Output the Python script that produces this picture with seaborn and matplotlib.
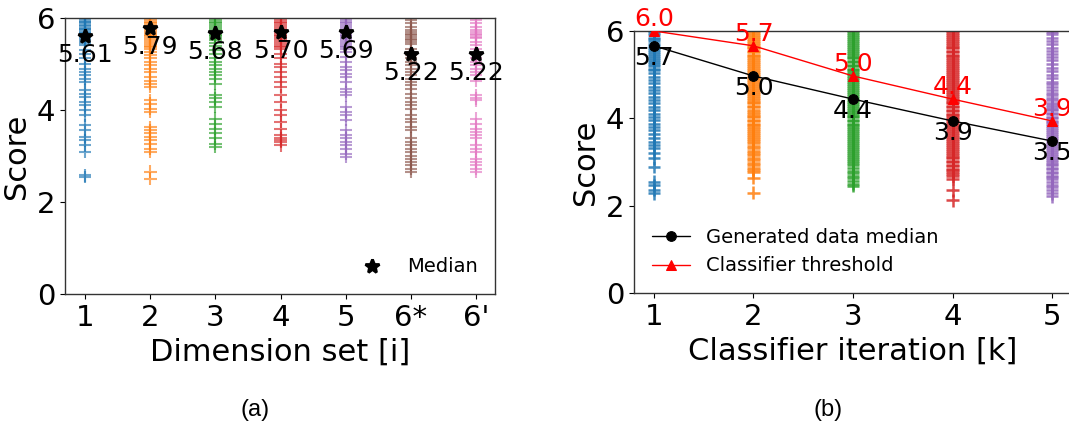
import numpy as np
import pandas as pd
import matplotlib
matplotlib.use("Agg")
import matplotlib.pyplot as plt
import seaborn as sns

sns.set_style("ticks")
plt.rcParams["font.family"] = ["DejaVu Sans"]
plt.rcParams.update({
    "text.color": "black",
    "axes.labelcolor": "black",
    "xtick.color": "black",
    "ytick.color": "black",
    "axes.edgecolor": "#333333",
    "axes.linewidth": 1.0,
})

TAB10 = ["#1f77b4", "#ff7f0e", "#2ca02c", "#d62728", "#9467bd", "#8c564b", "#e377c2"]

# ---------------- (a) scores per dimension set ----------------
dim_labels = ["1", "2", "3", "4", "5", "6*", "6'"]

dim_set_1 = [6.00, 5.97, 5.94, 5.91, 5.88, 5.85, 5.82, 5.79, 5.76, 5.73, 5.70, 5.67, 5.64,
             5.61, 5.58, 5.55, 5.50, 5.45, 5.41, 5.30, 5.22, 5.12, 5.01, 4.90, 4.83, 4.75,
             4.68, 4.61, 4.43, 4.35, 4.28, 4.17, 4.10, 3.99, 3.88, 3.67, 3.56, 3.41, 3.34,
             3.23, 3.09, 2.58, 2.54]
dim_set_2 = [6.00, 5.96, 5.92, 5.88, 5.84, 5.80, 5.76, 5.72, 5.68, 5.64, 5.60, 5.56, 5.52,
             5.48, 5.44, 5.40, 5.36, 5.33, 5.26, 5.19, 5.12, 5.04, 4.97, 4.90, 4.83, 4.72,
             4.64, 4.57, 4.50, 4.21, 4.14, 4.03, 3.96, 3.63, 3.56, 3.49, 3.41, 3.34, 3.27,
             3.16, 3.09, 2.66, 2.51]
dim_set_3 = [6.00, 5.96, 5.92, 5.88, 5.84, 5.80, 5.76, 5.72, 5.68, 5.64, 5.60, 5.56, 5.52,
             5.45, 5.38, 5.30, 5.22, 5.12, 5.04, 4.97, 4.90, 4.83, 4.75, 4.68, 4.57, 4.32,
             4.25, 4.17, 4.07, 3.81, 3.70, 3.59, 3.49, 3.38, 3.27, 3.20]
dim_set_4 = [6.00, 5.96, 5.92, 5.88, 5.84, 5.80, 5.76, 5.72, 5.68, 5.64, 5.60, 5.56, 5.52,
             5.48, 5.44, 5.40, 5.36, 5.33, 5.22, 5.12, 5.01, 4.93, 4.83, 4.72, 4.61, 4.50,
             4.32, 4.17, 3.99, 3.88, 3.74, 3.59, 3.45, 3.38, 3.34, 3.30, 3.23]
dim_set_5 = [6.00, 5.96, 5.92, 5.88, 5.84, 5.80, 5.76, 5.72, 5.68, 5.64, 5.60, 5.56, 5.52,
             5.48, 5.44, 5.40, 5.36, 5.33, 5.26, 5.15, 5.04, 4.93, 4.86, 4.79, 4.72, 4.61,
             4.46, 4.39, 4.32, 4.07, 3.96, 3.88, 3.78, 3.56, 3.45, 3.38, 3.30, 3.23, 3.16,
             3.05, 2.98]
dim_set_6s = [5.95, 5.88, 5.80, 5.73, 5.70, 5.66, 5.62, 5.59, 5.55, 5.52, 5.48, 5.44, 5.33,
              5.26, 5.19, 5.12, 5.04, 4.97, 4.90, 4.83, 4.75, 4.68, 4.61, 4.54, 4.46, 4.35,
              4.25, 4.17, 4.10, 4.03, 3.88, 3.81, 3.74, 3.63, 3.56, 3.38, 3.30, 3.23, 3.16,
              3.09, 3.01, 2.94, 2.87, 2.80, 2.72, 2.66]
dim_set_6p = [5.95, 5.88, 5.80, 5.73, 5.70, 5.66, 5.62, 5.59, 5.56, 5.48, 5.41, 5.33, 5.22,
              5.12, 5.04, 4.97, 4.90, 4.83, 4.75, 4.64, 4.32, 4.25, 4.21, 3.81, 3.70, 3.59,
              3.52, 3.45, 3.38, 3.23, 3.16, 3.09, 2.94, 2.87, 2.80, 2.72, 2.65]
dim_scores = [dim_set_1, dim_set_2, dim_set_3, dim_set_4, dim_set_5, dim_set_6s, dim_set_6p]
dim_medians = [5.61, 5.79, 5.68, 5.70, 5.69, 5.22, 5.22]

# ---------------- (b) scores per classifier iteration ----------------
iterations = [1, 2, 3, 4, 5]

iter_1 = [6.00, 5.95, 5.90, 5.85, 5.81, 5.76, 5.71, 5.66, 5.62, 5.57, 5.52, 5.47, 5.43,
          5.38, 5.33, 5.28, 5.24, 5.19, 5.14, 5.10, 5.03, 4.95, 4.87, 4.80, 4.72, 4.65,
          4.57, 4.49, 4.42, 4.34, 4.26, 4.19, 4.11, 4.03, 3.96, 3.88, 3.81, 3.73, 3.65,
          3.54, 3.46, 3.39, 3.31, 3.20, 3.08, 2.89, 2.55, 2.47, 2.36, 2.28]
iter_2 = [6.00, 5.96, 5.91, 5.87, 5.82, 5.78, 5.73, 5.69, 5.64, 5.60, 5.55, 5.51, 5.46,
          5.42, 5.37, 5.33, 5.28, 5.24, 5.19, 5.15, 5.10, 5.06, 5.01, 4.97, 4.92, 4.88,
          4.83, 4.79, 4.74, 4.70, 4.65, 4.61, 4.56, 4.52, 4.47, 4.43, 4.38, 4.34, 4.29,
          4.25, 4.20, 4.15, 4.11, 4.06, 4.02, 3.97, 3.93, 3.88, 3.84, 3.79, 3.75, 3.70,
          3.66, 3.61, 3.57, 3.52, 3.48, 3.43, 3.37, 3.31, 3.26, 3.20, 3.15, 3.09, 3.04,
          2.98, 2.93, 2.87, 2.82, 2.76, 2.64, 2.30]
iter_3 = [6.00, 5.95, 5.91, 5.86, 5.82, 5.77, 5.73, 5.68, 5.64, 5.59, 5.55, 5.50, 5.46,
          5.41, 5.37, 5.32, 5.28, 5.23, 5.19, 5.14, 5.10, 5.05, 5.01, 4.96, 4.92, 4.87,
          4.83, 4.78, 4.74, 4.69, 4.65, 4.60, 4.56, 4.51, 4.47, 4.42, 4.38, 4.33, 4.29,
          4.24, 4.20, 4.15, 4.11, 4.06, 4.02, 3.97, 3.93, 3.88, 3.84, 3.79, 3.75, 3.70,
          3.66, 3.61, 3.57, 3.52, 3.48, 3.43, 3.39, 3.34, 3.30, 3.25, 3.21, 3.16, 3.12,
          3.07, 3.02, 2.97, 2.92, 2.86, 2.80, 2.74, 2.69, 2.63, 2.57, 2.50, 2.45]
iter_4 = [6.00, 5.96, 5.91, 5.87, 5.82, 5.78, 5.73, 5.69, 5.64, 5.60, 5.55, 5.51, 5.46,
          5.42, 5.37, 5.33, 5.28, 5.24, 5.19, 5.15, 5.10, 5.06, 5.01, 4.97, 4.92, 4.88,
          4.83, 4.79, 4.74, 4.70, 4.65, 4.61, 4.56, 4.52, 4.47, 4.43, 4.38, 4.34, 4.29,
          4.25, 4.20, 4.16, 4.11, 4.07, 4.02, 3.98, 3.93, 3.89, 3.84, 3.80, 3.75, 3.71,
          3.66, 3.62, 3.57, 3.53, 3.48, 3.44, 3.39, 3.35, 3.30, 3.26, 3.21, 3.17, 3.12,
          3.08, 3.03, 2.99, 2.94, 2.90, 2.85, 2.81, 2.76, 2.72, 2.67, 2.62, 2.35, 2.12]
iter_5 = [5.98, 5.92, 5.85, 5.77, 5.71, 5.62, 5.55, 5.47, 5.40, 5.33, 5.25, 5.16, 5.08,
          5.00, 4.92, 4.84, 4.78, 4.71, 4.65, 4.59, 4.53, 4.47, 4.41, 4.36, 4.31, 4.27,
          4.22, 4.18, 4.13, 4.09, 4.04, 4.00, 3.95, 3.91, 3.86, 3.82, 3.77, 3.73, 3.68,
          3.64, 3.59, 3.55, 3.50, 3.46, 3.41, 3.37, 3.32, 3.28, 3.23, 3.19, 3.14, 3.10,
          3.05, 3.01, 2.96, 2.92, 2.87, 2.83, 2.78, 2.74, 2.69, 2.65, 2.60, 2.54, 2.48,
          2.42, 2.36, 2.28, 2.21]
iter_scores = [iter_1, iter_2, iter_3, iter_4, iter_5]
gen_median = [5.66, 4.97, 4.44, 3.94, 3.48]
clf_threshold = [6.00, 5.66, 4.97, 4.44, 3.94]

# ---------------- figure ----------------
fig = plt.figure(figsize=(10.69, 4.34), dpi=100)
ax1 = fig.add_axes([0.0608, 0.3226, 0.4022, 0.636])
ax2 = fig.add_axes([0.5931, 0.3249, 0.4097, 0.6037])

TICK_FS = 21
LABEL_FS = 22
ANNOT_FS = 18
LEGEND_FS = 14

# (a)
df_dim = pd.DataFrame({
    "set": np.repeat(dim_labels, [len(s) for s in dim_scores]),
    "score": np.concatenate(dim_scores),
})
sns.stripplot(data=df_dim, x="set", y="score", hue="set", order=dim_labels,
              palette=dict(zip(dim_labels, TAB10)), jitter=False, marker="+",
              size=9, linewidth=1.5, alpha=0.65, legend=False, zorder=2, ax=ax1)
sns.pointplot(x=dim_labels, y=dim_medians, order=dim_labels, color="black",
              errorbar=None, linestyle="none", marker="*", markersize=10,
              label="Median", zorder=10, ax=ax1)
for i, m in enumerate(dim_medians):
    ax1.annotate(f"{m:.2f}", (i, m), xytext=(0, -5), textcoords="offset points",
                 ha="center", va="top", fontsize=ANNOT_FS, color="black", zorder=11)
ax1.set_xlim(-0.31, 6.29)
ax1.set_ylim(0, 6)
ax1.set_yticks([0, 2, 4, 6])
ax1.set_xlabel("Dimension set [i]", fontsize=LABEL_FS)
ax1.set_ylabel("Score", fontsize=LABEL_FS)
ax1.tick_params(labelsize=TICK_FS)
ax1.legend(loc="lower right", frameon=False, fontsize=LEGEND_FS)

# (b)
df_it = pd.DataFrame({
    "k": np.repeat(iterations, [len(s) for s in iter_scores]),
    "score": np.concatenate(iter_scores),
})
sns.stripplot(data=df_it, x="k", y="score", hue="k", native_scale=True,
              palette=dict(zip(iterations, TAB10)), jitter=False, marker="+",
              size=9, linewidth=1.8, alpha=0.85, legend=False, zorder=2, ax=ax2)
sns.lineplot(x=iterations, y=gen_median, color="black", linewidth=1, marker="o",
             markersize=7, markeredgecolor="black", label="Generated data median",
             zorder=10, ax=ax2)
sns.lineplot(x=iterations, y=clf_threshold, color="red", linewidth=1, marker="^",
             markersize=7, markeredgecolor="red", label="Classifier threshold",
             zorder=10, ax=ax2)
for k, m in zip(iterations, gen_median):
    ax2.text(k, m, f"{m:.1f}", ha="center", va="top", fontsize=ANNOT_FS, color="black",
             zorder=11)
for k, t in zip(iterations, clf_threshold):
    ax2.text(k, t, f"{t:.1f}", ha="center", va="bottom", fontsize=ANNOT_FS, color="red",
             clip_on=False, zorder=11)
ax2.set_xlim(0.8, 5.2)
ax2.set_ylim(0, 6)
ax2.set_xticks(iterations)
ax2.set_yticks([0, 2, 4, 6])
ax2.set_xlabel("Classifier iteration [k]", fontsize=LABEL_FS)
ax2.set_ylabel("Score", fontsize=LABEL_FS)
ax2.tick_params(labelsize=TICK_FS)
ax2.legend(loc="lower left", frameon=False, fontsize=LEGEND_FS)

fig.text(0.2385, 0.055, "(a)", ha="center", va="center", fontsize=17,
         family="Liberation Sans")
fig.text(0.7746, 0.055, "(b)", ha="center", va="center", fontsize=17,
         family="Liberation Sans")

fig.savefig("out.png", dpi=100)
